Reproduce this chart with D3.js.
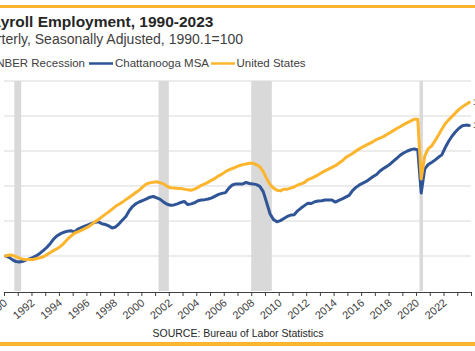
<!DOCTYPE html>
<html><head><meta charset="utf-8">
<script src="https://cdn.jsdelivr.net/npm/d3@7"></script>
<style>
html,body{margin:0;padding:0;background:#fff;overflow:hidden;}
svg{display:block;font-family:"Liberation Sans",Arial,sans-serif;}
</style></head>
<body><svg id="c" width="475" height="351"></svg>
<script>
// ---- data ----
const years = d3.range(1990, 2024);
const quarters = [1, 2, 3, 4];
// United States payroll employment index, 1990.1 = 100 (quarterly)
const usValues = [
  100.0, 100.3, 100.2, 99.8,
  99.4, 99.1, 99.0, 99.0,
  99.0, 99.3, 99.5, 99.8,
  100.4, 101.0, 101.6, 102.1,
  102.8, 103.7, 104.8, 105.7,
  106.5, 106.9, 107.3, 107.8,
  108.3, 109.0, 109.8, 110.4,
  111.2, 111.9, 112.6, 113.4,
  114.2, 114.8, 115.4, 116.1,
  116.8, 117.5, 118.2, 118.9,
  119.8, 120.6, 120.9, 121.1,
  121.2, 120.9, 120.6, 119.9,
  119.5, 119.4, 119.3, 119.3,
  119.1, 118.9, 118.8, 119.1,
  119.6, 120.2, 120.6, 121.1,
  121.7, 122.2, 122.9, 123.4,
  124.1, 124.6, 125.0, 125.4,
  125.8, 126.1, 126.3, 126.5,
  126.5, 126.1, 125.5, 124.1,
  122.1, 120.4, 119.4, 118.8,
  118.6, 119.1, 119.1, 119.4,
  119.7, 120.3, 120.6, 121.0,
  121.8, 122.2, 122.7, 123.2,
  123.8, 124.3, 124.8, 125.3,
  125.8, 126.5, 127.2, 128.1,
  128.7, 129.3, 130.0, 130.6,
  131.2, 131.7, 132.2, 132.7,
  133.3, 133.7, 134.1, 134.7,
  135.3, 135.9, 136.5, 137.0,
  137.6, 138.1, 138.6, 139.1,
  139.1, 122.0, 128.5, 130.6,
  131.4, 132.9, 134.5, 136.2,
  137.8, 138.9, 139.9, 140.9,
  141.9, 142.6, 143.3, 143.9
];
// Chattanooga MSA payroll employment index, 1990.1 = 100 (quarterly)
const chattValues = [
  100.0, 99.6, 98.9, 98.4,
  98.3, 98.5, 98.9, 99.2,
  99.6, 100.1, 100.8, 101.6,
  102.5, 103.6, 104.9, 105.8,
  106.4, 106.8, 107.1, 107.2,
  106.9, 107.7, 108.1, 108.5,
  108.9, 109.3, 109.6, 109.8,
  109.2, 109.0, 108.6, 108.0,
  108.3, 109.2, 110.3, 111.3,
  113.0, 114.2, 115.0, 115.5,
  115.9, 116.3, 116.8, 117.0,
  116.6, 116.2, 115.4, 114.8,
  114.5, 114.6, 114.9, 115.3,
  115.6, 114.7, 114.9, 115.2,
  115.8, 116.0, 116.1, 116.3,
  116.6, 117.1, 117.6, 117.9,
  118.1, 119.4, 120.3, 120.6,
  120.6, 120.6, 121.0, 120.7,
  120.6, 120.4, 119.9, 118.4,
  115.2, 112.0, 110.4, 109.8,
  110.1, 110.7, 111.3, 111.7,
  111.8, 112.9, 113.7, 114.4,
  115.1, 115.0, 115.5, 115.7,
  115.8, 116.0, 116.0, 116.0,
  115.4, 115.9, 116.3, 116.8,
  117.3, 118.7, 119.6, 120.3,
  120.8, 121.3, 122.0, 122.7,
  123.3, 124.3, 125.0, 125.6,
  126.3, 127.2, 128.0, 128.9,
  129.5, 130.0, 130.4, 130.6,
  130.3, 118.0, 124.8, 126.1,
  126.7, 127.4, 128.2, 128.9,
  131.0, 132.8, 134.3, 135.5,
  136.5, 137.2, 137.4, 137.3
];
// NBER recessions (shaded quarters), fractional years
const recessionStart = [1990.75, 2001.25, 2008.0, 2020.25];
const recessionEnd   = [1991.25, 2002.0, 2009.5, 2020.5];
const yTicks = [100, 110, 120, 130, 140, 150];
const xTickYears = d3.range(1990, 2025);
const xLabelYears = d3.range(1990, 2023, 2);
const seriesNames = ["NBER Recession", "Chattanooga MSA", "United States"];

// ---- build ----
const periods = [];
years.forEach(y => quarters.forEach(q => periods.push(y + (q - 0.5) / 4)));
const us = periods.map((t, i) => ({t, v: usValues[i]}));
const ch = periods.map((t, i) => ({t, v: chattValues[i]}));

const svg = d3.select("#c");
const orange = "#FDB52E", blue = "#2F5597", grey = "#D9D9D9";

const x = d3.scaleLinear().domain([1990, 2024]).range([4, 471]);
const y = d3.scaleLinear().domain([90, 150]).range([291, 81]);

// frame bands
svg.append("rect").attr("x", 0).attr("y", 5).attr("width", 475).attr("height", 3).attr("fill", orange);
svg.append("rect").attr("x", 0).attr("y", 342).attr("width", 475).attr("height", 4).attr("fill", orange);

// recessions
svg.append("g").selectAll("rect").data(recessionStart).join("rect")
  .attr("x", (d) => x(d))
  .attr("width", (d, i) => x(recessionEnd[i]) - x(d))
  .attr("y", y(150)).attr("height", y(90) - y(150))
  .attr("fill", grey);

// gridlines
svg.append("g").selectAll("line").data(yTicks).join("line")
  .attr("x1", x(1990)).attr("x2", x(2024))
  .attr("y1", d => y(d)).attr("y2", d => y(d))
  .attr("stroke", grey).attr("stroke-width", 1.2);

// x axis
const axisY = 292;
const xAxis = d3.axisBottom(x).tickValues(xTickYears).tickSize(4).tickFormat("");
const ax = svg.append("g").attr("transform", `translate(0,${axisY})`).call(xAxis);
ax.select(".domain").attr("stroke", "#404040");
ax.selectAll(".tick line").attr("stroke", "#404040");
svg.append("g").selectAll("text").data(xLabelYears).join("text")
  .attr("transform", d => `translate(${x(d) + 4},${axisY + 12}) rotate(-40)`)
  .attr("text-anchor", "end")
  .attr("font-size", 11).attr("fill", "#404040")
  .text(d => d);

// lines
const line = d3.line().x(d => x(d.t)).y(d => y(d.v));
svg.append("path").datum(ch).attr("d", line).attr("fill", "none")
  .attr("stroke", blue).attr("stroke-width", 3).attr("stroke-linejoin", "round").attr("stroke-linecap", "round");
svg.append("path").datum(us).attr("d", line).attr("fill", "none")
  .attr("stroke", orange).attr("stroke-width", 3).attr("stroke-linejoin", "round").attr("stroke-linecap", "round");

// end labels
const lastUS = us[us.length - 1], lastCH = ch[ch.length - 1];
svg.append("text").attr("x", 473).attr("y", y(lastUS.v) + 3).attr("font-size", 9).attr("fill", "#404040").text(lastUS.v.toFixed(1));
svg.append("text").attr("x", 473).attr("y", y(lastCH.v) + 3).attr("font-size", 9).attr("fill", "#404040").text(lastCH.v.toFixed(1));

// titles
svg.append("text").attr("x", 213.5).attr("y", 27).attr("text-anchor", "end")
  .attr("font-size", 15.5).attr("font-weight", "bold").attr("fill", "#262626")
  .text("Payroll Employment, 1990-2023");
svg.append("text").attr("x", 243).attr("y", 44).attr("text-anchor", "end")
  .attr("font-size", 14).attr("fill", "#404040")
  .text("Quarterly, Seasonally Adjusted, 1990.1=100");

// legend
const lg = svg.append("g").attr("font-size", 11.5).attr("fill", "#404040");
lg.append("rect").attr("x", -14).attr("y", 58).attr("width", 9).attr("height", 9).attr("fill", grey);
lg.append("text").attr("x", 85).attr("y", 67).attr("text-anchor", "end").text(seriesNames[0]);
lg.append("line").attr("x1", 89).attr("x2", 113).attr("y1", 63.5).attr("y2", 63.5).attr("stroke", blue).attr("stroke-width", 2.5);
lg.append("text").attr("x", 115).attr("y", 67).text(seriesNames[1]);
lg.append("line").attr("x1", 211).attr("x2", 235).attr("y1", 63.5).attr("y2", 63.5).attr("stroke", orange).attr("stroke-width", 2.5);
lg.append("text").attr("x", 236.5).attr("y", 67).text(seriesNames[2]);

// source
svg.append("text").attr("x", 238).attr("y", 337).attr("text-anchor", "middle")
  .attr("font-size", 10.5).attr("fill", "#262626")
  .text("SOURCE: Bureau of Labor Statistics");
</script></body></html>
